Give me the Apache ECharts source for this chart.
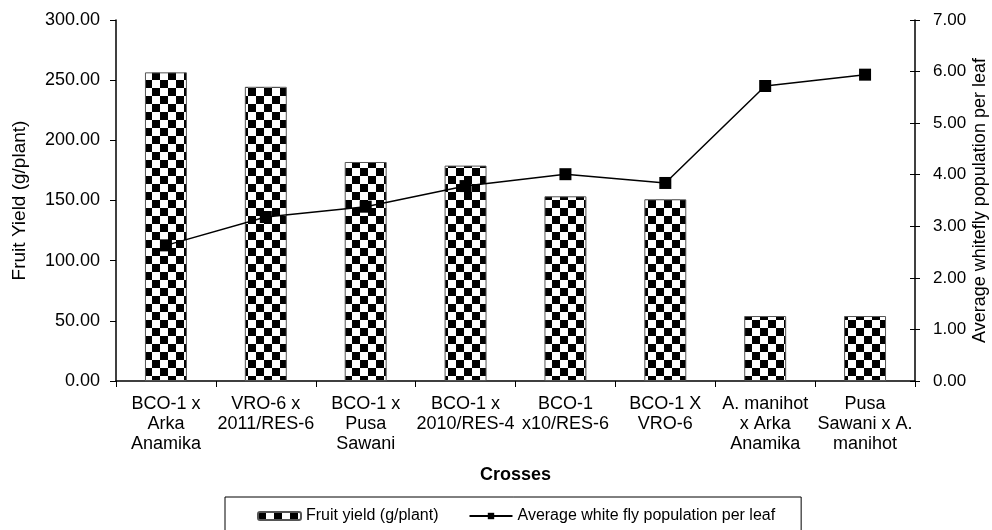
<!DOCTYPE html>
<html>
<head>
<meta charset="utf-8">
<script src="https://cdn.jsdelivr.net/npm/echarts@6/dist/echarts.min.js"></script>
<style>html,body{margin:0;padding:0;background:#fff}#c{width:992px;height:530px}</style>
</head>
<body>
<div id="c"></div>
<script>
var categories = ['BCO-1 x\nArka\nAnamika','VRO-6 x\n2011/RES-6','BCO-1 x\nPusa\nSawani','BCO-1 x\n2010/RES-4','BCO-1\nx10/RES-6','BCO-1 X\nVRO-6','A. manihot\nx Arka\nAnamika','Pusa\nSawani x A.\nmanihot'];
var fruitYield = [256.5, 244.5, 182, 179, 153.5, 151, 54, 54];
var whitefly = [2.63, 3.18, 3.38, 3.78, 4.01, 3.84, 5.72, 5.94];

var pc = document.createElement('canvas');
pc.width = 16; pc.height = 16;
var g = pc.getContext('2d');
g.fillStyle = '#fff'; g.fillRect(0,0,16,16);
g.fillStyle = '#000'; g.fillRect(0,0,8,8); g.fillRect(8,8,8,8);

var font = '"Liberation Sans", Arial, sans-serif';
var chart = echarts.init(document.getElementById('c'), null, {renderer:'canvas'});
chart.setOption({
  animation:false,
  textStyle:{fontFamily:font, color:'#000'},
  grid:{left:116, right:77, top:20, bottom:149, containLabel:false, outerBoundsMode:'none'},
  legend:{
    left:225, top:497,
    padding:[11,26,20,32], itemGap:30,
    borderColor:'#000', borderWidth:1,
    itemWidth:43, itemHeight:8,
    textStyle:{fontFamily:font, fontSize:16, color:'#000'},
    data:[{name:'Fruit yield (g/plant)'},{name:'Average white fly population per leaf', itemStyle:{color:'#000'}}]
  },
  xAxis:{
    type:'category', data:categories,
    axisLine:{lineStyle:{color:'#000', width:1.5}},
    axisTick:{show:true, length:6, lineStyle:{color:'#000'}},
    axisLabel:{color:'#000', fontSize:18, lineHeight:20, margin:13, fontFamily:font, interval:0},
    name:'Crosses', nameLocation:'middle', nameGap:85, nameMoveOverlap:false,
    nameTextStyle:{fontWeight:'bold', fontSize:18, fontFamily:font, color:'#000'}
  },
  yAxis:[{
    type:'value', min:0, max:300, interval:50,
    axisLine:{show:true, lineStyle:{color:'#000', width:1.5}},
    axisTick:{show:true, length:6, lineStyle:{color:'#000'}},
    splitLine:{show:false},
    axisLabel:{color:'#000', fontSize:18, margin:16, fontFamily:font, formatter:function(v){return v.toFixed(2);}},
    name:'Fruit Yield (g/plant)', nameLocation:'middle', nameGap:87, nameMoveOverlap:false,
    nameTextStyle:{fontSize:19, fontFamily:font, color:'#000'}
  },{
    type:'value', min:0, max:7, interval:1, position:'right',
    axisLine:{show:true, lineStyle:{color:'#000', width:1.5}},
    axisTick:{show:true, length:5, lineStyle:{color:'#000'}},
    splitLine:{show:false},
    axisLabel:{color:'#000', fontSize:17, margin:18, fontFamily:font, formatter:function(v){return v.toFixed(2);}},
    name:'Average whitefly population per leaf', nameLocation:'middle', nameGap:56, nameMoveOverlap:false,
    nameTextStyle:{fontSize:18, fontFamily:font, color:'#000'}
  },{
    type:'value', min:0, max:7, interval:1, position:'right',
    axisLine:{show:false},
    axisTick:{show:true, inside:true, length:5, lineStyle:{color:'#000'}},
    axisLabel:{show:false}, splitLine:{show:false}
  }],
  series:[{
    name:'Fruit yield (g/plant)', type:'bar', data:fruitYield, barWidth:'42%',
    itemStyle:{color:{image:pc, repeat:'repeat'}, borderColor:'#555', borderWidth:1}
  },{
    name:'Average white fly population per leaf', type:'line', yAxisIndex:1, data:whitefly,
    symbol:'rect', symbolSize:12,
    lineStyle:{color:'#000', width:1.5}, itemStyle:{color:'#000'}
  }]
});
</script>
</body>
</html>
